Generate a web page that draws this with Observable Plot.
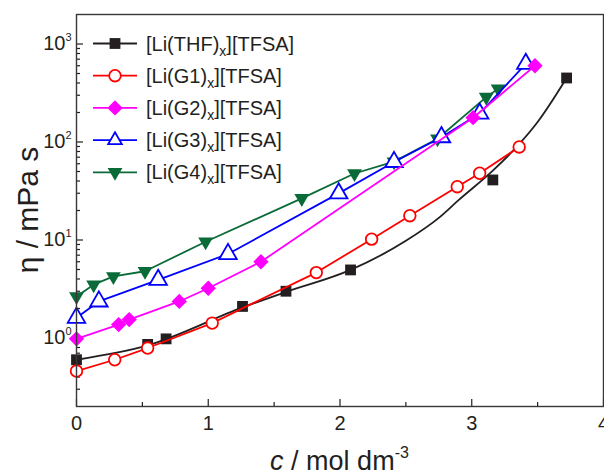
<!DOCTYPE html>
<html><head><meta charset="utf-8">
<script src="https://cdn.jsdelivr.net/npm/d3@7"></script>
<script src="https://cdn.jsdelivr.net/npm/@observablehq/plot@0.6"></script>
<style>body{margin:0;background:#fff}svg{display:block}</style>
</head><body><div id="chart"></div>
<script>
// ---- data ----
const thfC   = [0, 0.54, 0.68, 1.26, 1.59, 2.08, 3.16, 3.72];
const thfEta = [0.60, 0.86, 0.98, 2.1, 3.0, 4.95, 41, 450];
// smooth fit curve of the THF series
const thfFitC   = [0, 0.54, 1.26, 1.59, 2.08, 2.5, 2.75, 2.9, 3.16, 3.34, 3.5, 3.72];
const thfFitEta = [0.60, 0.84, 2.05, 2.95, 4.95, 9.8, 16.8, 25.5, 51, 89, 160, 450];
const g1C   = [0, 0.29, 0.54, 1.03, 1.82, 2.24, 2.53, 2.89, 3.06, 3.36];
const g1Eta = [0.46, 0.60, 0.79, 1.42, 4.65, 10.2, 17.7, 35, 48, 89];
const g2C   = [0, 0.32, 0.40, 0.78, 1.00, 1.40, 3.01, 3.48];
const g2Eta = [0.98, 1.37, 1.54, 2.36, 3.22, 6.0, 177, 600];
const g3C   = [0, 0.17, 0.62, 1.15, 1.99, 2.41, 2.77, 3.06, 3.41];
const g3Eta = [1.61, 2.36, 3.92, 7.2, 29.9, 62.6, 112, 195, 627];
const g4C   = [0, 0.13, 0.28, 0.52, 0.98, 1.71, 2.11, 2.41, 2.74, 3.11, 3.20];
const g4Eta = [2.65, 3.5, 4.25, 4.8, 9.6, 26.6, 47.7, 63, 108, 287, 349];
const seriesNames = ["THF", "G1", "G2", "G3", "G4"];
const xTicks = [0, 1, 2, 3, 4];
const xMinor = [0.5, 1.5, 2.5, 3.5];
const yMajor = [1, 10, 100, 1000];
const yMinor = [0.3,0.4,0.5,0.6,0.7,0.8,0.9, 2,3,4,5,6,7,8,9, 20,30,40,50,60,70,80,90, 200,300,400,500,600,700,800,900];

const colors = {THF: "#231f20", G1: "#ff0000", G2: "#ff00ff", G3: "#0000ff", G4: "#0a6b38"};
const zip = (c, e) => c.map((v, i) => ({c: v, eta: e[i]}));

const triangleDown = {
  draw(ctx, size) {
    const a = Math.sqrt(size * 4 / Math.sqrt(3));
    const h = a * Math.sqrt(3) / 2;
    ctx.moveTo(0, 2 * h / 3);
    ctx.lineTo(a / 2, -h / 3);
    ctx.lineTo(-a / 2, -h / 3);
    ctx.closePath();
  }
};

const W = 604, H = 476, mL = 76, mR = 1, mT = 14, mB = 70;
const frameW = W - mL - mR, frameH = H - mT - mB;
const ink = "#231f20";
const LW = 1.8;
const R = {THF: 6.1, G1: 5.8, G2: 6.9, G3: 6.5, G4: 5.5};

const thf = zip(thfC, thfEta), thfFit = zip(thfFitC, thfFitEta);
const g1 = zip(g1C, g1Eta), g2 = zip(g2C, g2Eta), g3 = zip(g3C, g3Eta), g4 = zip(g4C, g4Eta);

const plot = Plot.plot({
  width: W, height: H,
  marginLeft: mL, marginRight: mR, marginTop: mT, marginBottom: mB,
  style: {fontFamily: "Liberation Sans, Arial, sans-serif", color: ink, background: "#fff"},
  x: {domain: [0, 4], axis: null},
  y: {type: "log", domain: [0.2, 2000], axis: null},
  marks: [
    // ticks (inward)
    Plot.tickX(xTicks, {x: d => d, insetTop: frameH - 7, stroke: ink, strokeWidth: 1.2}),
    Plot.tickX(xMinor, {x: d => d, insetTop: frameH - 4, stroke: ink, strokeWidth: 1.2}),
    Plot.tickY(yMajor, {y: d => d, insetRight: frameW - 7, stroke: ink, strokeWidth: 1.2}),
    Plot.tickY(yMinor, {y: d => d, insetRight: frameW - 4, stroke: ink, strokeWidth: 1.2}),
    Plot.axisX({ticks: xTicks, tickSize: 0, tickPadding: 9, fontSize: 20, label: null, tickFormat: d => String(d)}),
    Plot.text(yMajor, {y: d => d, text: d => "10", frameAnchor: "left", textAnchor: "end", dx: -11, fontSize: 20, fill: ink}),
    Plot.text(yMajor, {y: d => d, text: d => String(Math.round(Math.log10(d))), frameAnchor: "left", textAnchor: "start", dx: -11, dy: -7, fontSize: 11, fill: ink}),
    // THF
    Plot.line(thfFit, {x: "c", y: "eta", stroke: colors.THF, strokeWidth: LW, curve: "monotone-x"}),
    Plot.dot(thf, {x: "c", y: "eta", symbol: "square", r: R.THF, fill: colors.THF}),
    // G4
    Plot.line(g4, {x: "c", y: "eta", stroke: colors.G4, strokeWidth: LW}),
    Plot.dot(g4, {x: "c", y: "eta", symbol: triangleDown, r: R.G4, fill: colors.G4}),
    // G3
    Plot.line(g3, {x: "c", y: "eta", stroke: colors.G3, strokeWidth: LW}),
    Plot.dot(g3, {x: "c", y: "eta", symbol: "triangle", r: R.G3, stroke: colors.G3, fill: "#fff", strokeWidth: 1.8}),
    // G2
    Plot.line(g2, {x: "c", y: "eta", stroke: colors.G2, strokeWidth: LW}),
    Plot.dot(g2, {x: "c", y: "eta", symbol: "diamond2", r: R.G2, fill: colors.G2}),
    // G1
    Plot.line(g1, {x: "c", y: "eta", stroke: colors.G1, strokeWidth: LW}),
    Plot.dot(g1, {x: "c", y: "eta", symbol: "circle", r: R.G1, stroke: colors.G1, fill: "#fff", strokeWidth: 1.8}),
    Plot.frame({stroke: "#3a3536", strokeWidth: 1.4})
  ]
});

document.getElementById("chart").appendChild(plot);
const svg = d3.select(plot);

// axis titles
svg.append("text")
  .attr("transform", `translate(38,${mT + frameH / 2}) rotate(-90)`)
  .attr("text-anchor", "middle")
  .attr("font-size", 30).attr("fill", ink)
  .text("η / mPa s");

const xl = svg.append("text")
  .attr("x", mL + frameW / 2).attr("y", 470)
  .attr("text-anchor", "middle")
  .attr("font-size", 27).attr("fill", ink);
xl.append("tspan").attr("font-style", "italic").text("c");
xl.append("tspan").text(" / mol dm");
xl.append("tspan").attr("font-size", 16).attr("dy", -12).text("-3");

// legend
const legendSymbols = {THF: d3.symbolSquare, G1: d3.symbolCircle, G2: d3.symbolDiamond2, G3: d3.symbolTriangle2, G4: triangleDown};
const legendFilled = {THF: true, G1: false, G2: true, G3: false, G4: true};
const labels = {THF: "THF", G1: "G1", G2: "G2", G3: "G3", G4: "G4"};
const lg = svg.append("g").attr("text-anchor", "start");
seriesNames.forEach((s, i) => {
  const y = 43.5 + i * 32.2;
  lg.append("line").attr("x1", 93).attr("x2", 137).attr("y1", y).attr("y2", y)
    .attr("stroke", colors[s]).attr("stroke-width", LW);
  const size = Math.PI * R[s] * R[s];
  lg.append("path").attr("transform", `translate(115,${y})`)
    .attr("d", d3.symbol(legendSymbols[s], size)())
    .attr("fill", legendFilled[s] ? colors[s] : "#fff")
    .attr("stroke", legendFilled[s] ? "none" : colors[s])
    .attr("stroke-width", 1.8);
  const t = lg.append("text").attr("x", 146).attr("y", y + 7)
    .attr("text-anchor", "start")
    .attr("font-size", 20).attr("fill", ink);
  t.append("tspan").text(`[Li(${labels[s]})`);
  t.append("tspan").attr("font-size", 14).attr("dy", 5).text("x");
  t.append("tspan").attr("dy", -5).text("][TFSA]");
});
</script>
</body></html>
